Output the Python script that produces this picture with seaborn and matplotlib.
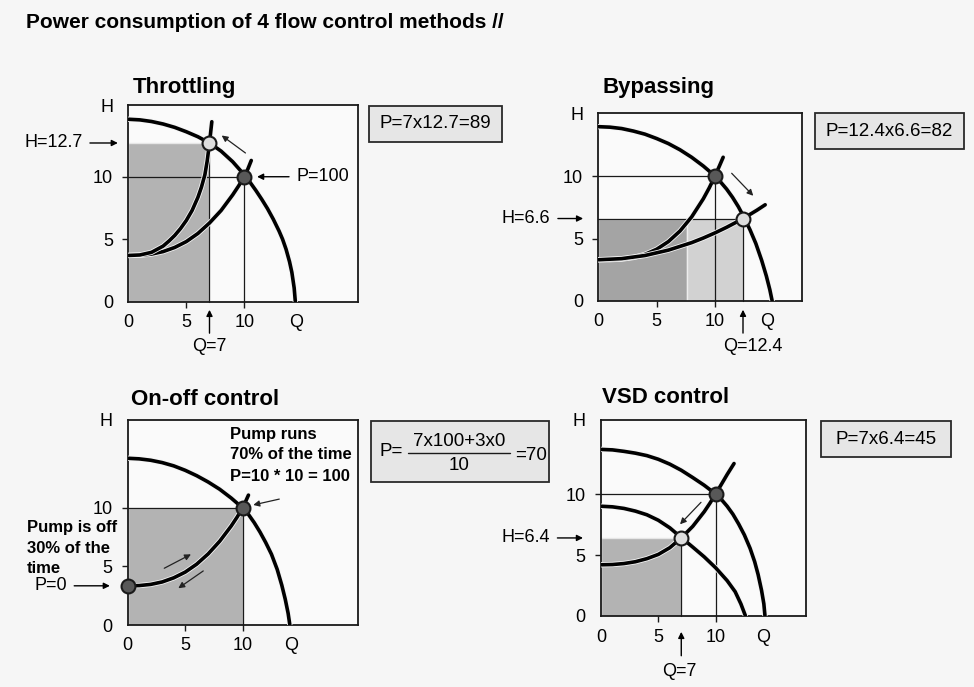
import matplotlib
matplotlib.use("Agg")
import matplotlib.pyplot as plt
import matplotlib.patheffects as pe
from matplotlib.patches import Rectangle
from matplotlib.lines import Line2D
import seaborn as sns

# ---- values (Q = flow, H = head) ----
# Throttling
thr_pump_q = [0, 1, 2, 3, 4, 5, 6, 7, 8, 9, 10, 10.5, 11, 11.5, 12, 12.5, 13, 13.3, 13.6, 13.9, 14.1, 14.3, 14.4]
thr_pump_h = [14.6, 14.55, 14.42, 14.22, 13.95, 13.6, 13.2, 12.7, 12.05, 11.2, 10.15, 9.55, 8.9, 8.2,
              7.45, 6.6, 5.65, 5.0, 4.2, 3.2, 2.35, 1.1, 0]
thr_sys_q = [0, 1, 2, 3, 4, 5, 6, 7, 8, 9, 9.5, 10, 10.3, 10.6]
thr_sys_h = [3.7, 3.72, 3.81, 4.01, 4.34, 4.81, 5.46, 6.3, 7.3, 8.55, 9.25, 10.0, 10.6, 11.3]
thr_valve_q = [0, 1, 2, 3, 3.5, 4, 4.5, 5, 5.5, 6, 6.3, 6.6, 6.8, 7.0, 7.2]
thr_valve_h = [3.7, 3.74, 3.95, 4.45, 4.85, 5.3, 5.85, 6.5, 7.3, 8.35, 9.15, 10.15, 11.25, 12.7, 14.4]
thr_points_q = [10, 7]
thr_points_h = [10, 12.7]

# Bypassing
byp_pump_q = [0, 1, 2, 3, 4, 5, 6, 7, 8, 9, 10, 10.5, 11, 11.5, 12, 12.4, 13, 13.5, 14, 14.4, 14.7, 14.9]
byp_pump_h = [13.95, 13.91, 13.8, 13.6, 13.35, 13.0, 12.6, 12.1, 11.5, 10.8, 10.0, 9.5, 8.95, 8.3,
              7.55, 6.85, 5.7, 4.6, 3.25, 2.0, 0.9, 0]
byp_sys_q = [0, 1, 2, 3, 4, 5, 6, 7, 8, 9, 9.5, 10, 10.4, 10.7]
byp_sys_h = [3.3, 3.31, 3.35, 3.48, 3.73, 4.14, 4.75, 5.6, 6.73, 8.18, 9.04, 10.0, 10.85, 11.5]
byp_open_q = [0, 2, 4, 6, 8, 9, 10, 11, 12, 12.4, 13, 13.6, 14.3]
byp_open_h = [3.3, 3.39, 3.64, 4.07, 4.67, 5.04, 5.45, 5.9, 6.39, 6.6, 6.93, 7.27, 7.7]
byp_points_q = [10, 12.4]
byp_points_h = [10, 6.6]
byp_split_q = 7.6

# On-off control
onf_pump_q = [0, 1, 2, 3, 4, 5, 6, 7, 8, 9, 10, 10.5, 11, 11.5, 12, 12.5, 13, 13.4, 13.7, 13.95, 14.1]
onf_pump_h = [14.25, 14.2, 14.08, 13.88, 13.6, 13.22, 12.76, 12.22, 11.6, 10.85, 10.0, 9.45, 8.75,
              7.95, 7.05, 6.05, 4.75, 3.4, 2.2, 1.0, 0]
onf_sys_q = [0, 1, 2, 3, 4, 5, 6, 7, 8, 9, 9.5, 10, 10.25, 10.5]
onf_sys_h = [3.35, 3.37, 3.47, 3.68, 4.03, 4.52, 5.2, 6.08, 7.16, 8.46, 9.2, 10.0, 10.55, 11.1]
onf_points_q = [0, 10]
onf_points_h = [3.35, 10]

# VSD control
vsd_pump_q = [0, 1, 2, 3, 4, 5, 6, 7, 8, 9, 10, 10.5, 11, 11.5, 12, 12.5, 13, 13.4, 13.7, 14.0, 14.2, 14.3]
vsd_pump_h = [13.66, 13.62, 13.5, 13.35, 13.15, 12.85, 12.45, 11.95, 11.35, 10.72, 10.0, 9.55, 9.0,
              8.35, 7.55, 6.65, 5.55, 4.45, 3.4, 2.1, 1.0, 0]
vsd_slow_q = [0, 1, 2, 3, 4, 5, 6, 7, 8, 9, 10, 11, 11.7, 12.2, 12.6]
vsd_slow_h = [9.0, 8.95, 8.82, 8.6, 8.3, 7.85, 7.23, 6.43, 5.65, 4.85, 3.95, 2.9, 1.99, 0.99, 0]
vsd_sys_q = [0, 1, 2, 3, 4, 5, 6, 7, 8, 9, 9.5, 10, 10.5, 11, 11.6]
vsd_sys_h = [4.2, 4.22, 4.3, 4.45, 4.7, 5.05, 5.6, 6.4, 7.35, 8.55, 9.25, 10.0, 10.8, 11.6, 12.5]
vsd_points_q = [10, 7]
vsd_points_h = [10, 6.4]

W, H = 974, 687
INK = '#1a1a1a'
DARK_DOT = '#585858'
LIGHT_DOT = '#dedede'
FILL = '#b3b3b3'

sns.set_theme(style="white")
plt.rcParams['font.family'] = ['Liberation Sans', 'DejaVu Sans']
plt.rcParams['text.color'] = 'black'

fig = plt.figure(figsize=(W / 100, H / 100), dpi=100)
fig.patch.set_facecolor('#f6f6f6')


def make_axes(box, xmax, ymax, qpos):
    l, t, r, b = box
    ax = fig.add_axes([l / W, 1 - b / H, (r - l) / W, (b - t) / H])
    ax.set_facecolor('#fafafa')
    ax.set_xlim(0, xmax)
    ax.set_ylim(0, ymax)
    for s in ax.spines.values():
        s.set_visible(True)
        s.set_color(INK)
        s.set_linewidth(1.3)
    ax.set_xticks([0, 5, 10, qpos])
    ax.set_xticklabels(['0', '5', '10', 'Q'])
    ax.set_yticks([0, 5, 10, ymax])
    ax.set_yticklabels(['0', '5', '10', 'H'])
    ax.tick_params(bottom=True, left=True, direction='out', length=4, width=1,
                   color=INK, labelsize=13, labelcolor='black')
    ax.tick_params(axis='x', pad=5)
    ax.tick_params(axis='y', pad=7)
    for i in (0, 3):
        ax.xaxis.get_major_ticks()[i].tick1line.set_visible(False)
        ax.yaxis.get_major_ticks()[i].tick1line.set_visible(False)
    return ax


def curve(ax, q, h):
    sns.lineplot(x=q, y=h, ax=ax, color='black', linewidth=2.6, estimator=None,
                 sort=False, zorder=4,
                 path_effects=[pe.Stroke(linewidth=3.8, foreground='#f4f4f4'), pe.Normal()])


def dots(ax, q, h, colors):
    for qi, hi, c in zip(q, h, colors):
        sns.scatterplot(x=[qi], y=[hi], ax=ax, s=100, color=c, edgecolor=INK,
                        linewidth=1.5, zorder=6, clip_on=False)


def small_arrow(ax, start, end):
    ax.annotate('', xy=end, xytext=start,
                arrowprops=dict(arrowstyle='-|>', color='#222222', lw=0.9,
                                mutation_scale=9, shrinkA=0, shrinkB=0))


def label_arrow(ax, text, xy, xytext, ha, va='center', **kw):
    ax.annotate(text, xy=xy, xytext=xytext, ha=ha, va=va, fontsize=13,
                annotation_clip=False, **kw,
                arrowprops=dict(arrowstyle='-|>', color='black', lw=1.0,
                                mutation_scale=9, shrinkA=3, shrinkB=0))


def formula_box(box, text=None):
    l, t, r, b = box
    fig.add_artist(Rectangle((l / W, 1 - b / H), (r - l) / W, (b - t) / H,
                             transform=fig.transFigure, facecolor='#e6e6e6',
                             edgecolor='#2a2a2a', lw=1.3))
    if text:
        fig.text((l + r) / 2 / W, 1 - (t + b) / 2 / H, text, ha='center',
                 va='center', fontsize=13.5)


def thin(ax, x, y):
    ax.add_line(Line2D(x, y, color=INK, lw=0.9, zorder=3, clip_on=False))


def text_lines(ax, x, ys, lines):
    for y, s in zip(ys, lines):
        ax.text(x, y, s, ha='left', va='center', fontsize=12, fontweight='bold',
                clip_on=False, zorder=7)


# main title
fig.text(26 / W, 1 - 22 / H, 'Power consumption of 4 flow control methods //',
         fontsize=15, fontweight='bold', ha='left', va='center')

# ---------- Throttling ----------
ax = make_axes((128.3, 105, 357.5, 301.7), 19.76, 15.74, 14.5)
fig.text(133 / W, 1 - 87 / H, 'Throttling', fontsize=16, fontweight='bold', va='center')
ax.add_patch(Rectangle((0, 0), thr_points_q[1], thr_points_h[1], facecolor=FILL,
                       edgecolor='#e6e6e6', lw=1, zorder=1))
thin(ax, [0, thr_points_q[0]], [thr_points_h[0]] * 2)
thin(ax, [thr_points_q[0]] * 2, [0, thr_points_h[0]])
thin(ax, [thr_points_q[1]] * 2, [0, thr_points_h[1]])
curve(ax, thr_pump_q, thr_pump_h)
curve(ax, thr_sys_q, thr_sys_h)
curve(ax, thr_valve_q, thr_valve_h)
dots(ax, thr_points_q, thr_points_h, [DARK_DOT, LIGHT_DOT])
small_arrow(ax, (10.1, 11.9), (8.05, 13.3))
label_arrow(ax, 'H=12.7', (-0.9, 12.7), (-3.95, 12.7), 'right')
label_arrow(ax, 'P=100', (11.1, 10), (14.5, 10), 'left')
label_arrow(ax, '', (7, -0.65), (7, -2.85), 'center')
ax.text(7, -3.62, 'Q=7', ha='center', va='center', fontsize=13, clip_on=False)
formula_box((369, 106, 502, 142), 'P=7x12.7=89')

# ---------- Bypassing ----------
ax = make_axes((598.3, 113.3, 801.7, 301), 17.43, 15.02, 14.45)
fig.text(603 / W, 1 - 87 / H, 'Bypassing', fontsize=16, fontweight='bold', va='center')
ax.add_patch(Rectangle((0, 0), byp_split_q, byp_points_h[1], facecolor='#a4a4a4',
                       edgecolor='#e6e6e6', lw=1, zorder=1))
ax.add_patch(Rectangle((byp_split_q, 0), byp_points_q[1] - byp_split_q, byp_points_h[1],
                       facecolor='#d2d2d2', edgecolor='#ededed', lw=1, zorder=1))
thin(ax, [0, byp_points_q[0]], [byp_points_h[0]] * 2)
thin(ax, [byp_points_q[0]] * 2, [0, byp_points_h[0]])
thin(ax, [0, byp_points_q[1]], [byp_points_h[1]] * 2)
thin(ax, [byp_points_q[1]] * 2, [0, byp_points_h[1]])
curve(ax, byp_pump_q, byp_pump_h)
curve(ax, byp_sys_q, byp_sys_h)
curve(ax, byp_open_q, byp_open_h)
dots(ax, byp_points_q, byp_points_h, [DARK_DOT, LIGHT_DOT])
small_arrow(ax, (11.43, 10.22), (13.28, 8.42))
label_arrow(ax, 'H=6.6', (-1.3, 6.6), (-4.1, 6.6), 'right')
label_arrow(ax, '', (12.4, -0.7), (12.4, -2.9), 'center')
ax.text(13.26, -3.68, 'Q=12.4', ha='center', va='center', fontsize=13, clip_on=False)
formula_box((815, 113, 964, 149), 'P=12.4x6.6=82')

# ---------- On-off control ----------
ax = make_axes((127.7, 420, 357.7, 625), 20.0, 17.52, 14.2)
fig.text(131 / W, 1 - 400 / H, 'On-off control', fontsize=16, fontweight='bold', va='center')
ax.add_patch(Rectangle((0, 0), onf_points_q[1], onf_points_h[1], facecolor=FILL,
                       edgecolor='#e6e6e6', lw=1, zorder=1))
thin(ax, [0, onf_points_q[1]], [onf_points_h[1]] * 2)
thin(ax, [onf_points_q[1]] * 2, [0, onf_points_h[1]])
curve(ax, onf_pump_q, onf_pump_h)
curve(ax, onf_sys_q, onf_sys_h)
dots(ax, onf_points_q, onf_points_h, [DARK_DOT, DARK_DOT])
small_arrow(ax, (13.18, 10.76), (10.92, 10.26))
small_arrow(ax, (3.18, 4.85), (5.5, 6.04))
small_arrow(ax, (6.57, 4.62), (4.4, 3.14))
text_lines(ax, 8.9, [16.24, 14.53, 12.73],
           ['Pump runs', '70% of the time', 'P=10 * 10 = 100'])
text_lines(ax, -8.78, [8.29, 6.5, 4.79], ['Pump is off', '30% of the', 'time'])
label_arrow(ax, 'P=0', (-1.55, 3.35), (-5.3, 3.35), 'right')
formula_box((371, 421, 549, 482))
fig.text(391 / W, 1 - 452 / H, 'P=', ha='center', va='center', fontsize=13.5)
fig.text(459 / W, 1 - 442 / H, '7x100+3x0', ha='center', va='center', fontsize=13.5)
fig.text(459 / W, 1 - 465 / H, '10', ha='center', va='center', fontsize=13.5)
fig.add_artist(Line2D([408 / W, 510 / W], [1 - 453 / H] * 2, color=INK, lw=1.0,
                      transform=fig.transFigure))
fig.text(531 / W, 1 - 455 / H, '=70', ha='center', va='center', fontsize=13.5)

# ---------- VSD control ----------
ax = make_axes((601, 420, 805.7, 616), 17.85, 16.07, 14.1)
fig.text(602 / W, 1 - 397 / H, 'VSD control', fontsize=16, fontweight='bold', va='center')
ax.add_patch(Rectangle((0, 0), vsd_points_q[1], vsd_points_h[1], facecolor=FILL,
                       edgecolor='#e6e6e6', lw=1, zorder=1))
thin(ax, [0, vsd_points_q[0]], [vsd_points_h[0]] * 2)
thin(ax, [vsd_points_q[0]] * 2, [0, vsd_points_h[0]])
thin(ax, [vsd_points_q[1]] * 2, [0, vsd_points_h[1]])
curve(ax, vsd_pump_q, vsd_pump_h)
curve(ax, vsd_slow_q, vsd_slow_h)
curve(ax, vsd_sys_q, vsd_sys_h)
dots(ax, vsd_points_q, vsd_points_h, [DARK_DOT, LIGHT_DOT])
small_arrow(ax, (8.72, 9.32), (6.89, 7.52))
label_arrow(ax, 'H=6.4', (-1.57, 6.4), (-4.45, 6.4), 'right')
label_arrow(ax, '', (7.0, -1.3), (7.0, -3.6), 'center')
ax.text(6.8, -4.59, 'Q=7', ha='center', va='center', fontsize=13, clip_on=False)
formula_box((821, 421, 951, 457), 'P=7x6.4=45')

fig.savefig('out.png', dpi=100, facecolor=fig.get_facecolor())
